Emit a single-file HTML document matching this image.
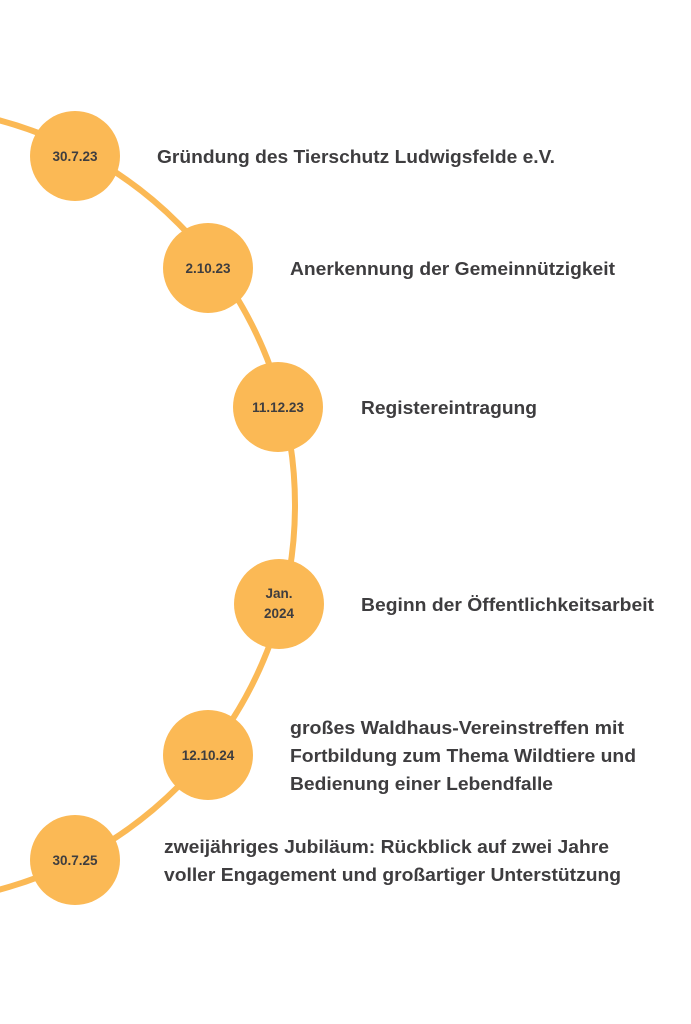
<!DOCTYPE html>
<html><head><meta charset="utf-8"><style>
html,body{margin:0;padding:0;background:#fff;width:691px;height:1024px;overflow:hidden}
svg{display:block}
text{font-family:"Liberation Sans",sans-serif;font-weight:bold;fill:#3e3d3f}
.d{font-size:13.5px;text-anchor:middle}
.t{font-size:18.5px}
</style></head><body>
<svg width="691" height="1024" viewBox="0 0 691 1024">
<circle cx="-103" cy="505" r="398" fill="none" stroke="#fbb955" stroke-width="6"/>
<g fill="#fbb955">
<circle cx="75" cy="156" r="45"/>
<circle cx="208" cy="268" r="45"/>
<circle cx="278" cy="407" r="45"/>
<circle cx="279" cy="604" r="45"/>
<circle cx="208" cy="755" r="45"/>
<circle cx="75" cy="860" r="45"/>
</g>
<text class="d" x="75" y="161">30.7.23</text>
<text class="d" x="208" y="273">2.10.23</text>
<text class="d" x="278" y="412">11.12.23</text>
<text class="d" x="279" y="598">Jan.</text>
<text class="d" x="279" y="618">2024</text>
<text class="d" x="208" y="760">12.10.24</text>
<text class="d" x="75" y="865">30.7.25</text>
<text class="t" x="157" y="163" textLength="398" lengthAdjust="spacingAndGlyphs">Gründung des Tierschutz Ludwigsfelde e.V.</text>
<text class="t" x="290" y="275" textLength="325" lengthAdjust="spacingAndGlyphs">Anerkennung der Gemeinnützigkeit</text>
<text class="t" x="361" y="414" textLength="176" lengthAdjust="spacingAndGlyphs">Registereintragung</text>
<text class="t" x="361" y="611" textLength="293" lengthAdjust="spacingAndGlyphs">Beginn der Öffentlichkeitsarbeit</text>
<text class="t" x="290" y="734" textLength="334" lengthAdjust="spacingAndGlyphs">großes Waldhaus-Vereinstreffen mit</text>
<text class="t" x="290" y="762" textLength="346" lengthAdjust="spacingAndGlyphs">Fortbildung zum Thema Wildtiere und</text>
<text class="t" x="290" y="790" textLength="263" lengthAdjust="spacingAndGlyphs">Bedienung einer Lebendfalle</text>
<text class="t" x="164" y="853" textLength="445" lengthAdjust="spacingAndGlyphs">zweijähriges Jubiläum: Rückblick auf zwei Jahre</text>
<text class="t" x="164" y="881" textLength="457" lengthAdjust="spacingAndGlyphs">voller Engagement und großartiger Unterstützung</text>
</svg>
</body></html>
